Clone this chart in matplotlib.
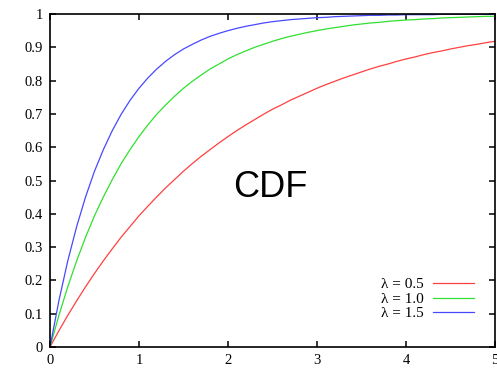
import matplotlib
matplotlib.use("Agg")
import matplotlib.pyplot as plt

# values, x from 0 to 5 in steps of 0.1
x = [i / 10 for i in range(51)]
cdf_05 = [0.000, 0.049, 0.095, 0.139, 0.181, 0.221, 0.259, 0.295, 0.330, 0.362,
          0.394, 0.423, 0.451, 0.478, 0.503, 0.528, 0.551, 0.573, 0.593, 0.613,
          0.632, 0.650, 0.667, 0.683, 0.699, 0.714, 0.727, 0.741, 0.753, 0.765,
          0.777, 0.788, 0.798, 0.808, 0.817, 0.826, 0.835, 0.843, 0.850, 0.858,
          0.865, 0.871, 0.878, 0.884, 0.889, 0.895, 0.900, 0.905, 0.909, 0.914,
          0.918]
cdf_10 = [0.000, 0.095, 0.181, 0.259, 0.330, 0.394, 0.451, 0.503, 0.551, 0.593,
          0.632, 0.667, 0.699, 0.727, 0.753, 0.777, 0.798, 0.817, 0.835, 0.850,
          0.865, 0.878, 0.889, 0.900, 0.909, 0.918, 0.926, 0.933, 0.939, 0.945,
          0.950, 0.955, 0.959, 0.963, 0.967, 0.970, 0.973, 0.975, 0.978, 0.980,
          0.982, 0.983, 0.985, 0.986, 0.988, 0.989, 0.990, 0.991, 0.992, 0.993,
          0.993]
cdf_15 = [0.000, 0.139, 0.259, 0.362, 0.451, 0.528, 0.593, 0.650, 0.699, 0.741,
          0.777, 0.808, 0.835, 0.858, 0.878, 0.895, 0.909, 0.922, 0.933, 0.942,
          0.950, 0.957, 0.963, 0.968, 0.973, 0.977, 0.980, 0.983, 0.985, 0.987,
          0.989, 0.990, 0.992, 0.993, 0.994, 0.995, 0.996, 0.996, 0.997, 0.997,
          0.998, 0.998, 0.998, 0.998, 0.999, 0.999, 0.999, 0.999, 0.999, 0.999,
          0.999]
labels = ["λ = 0.5", "λ = 1.0", "λ = 1.5"]
colors = ["#ff4040", "#30e030", "#4848ff"]

serif = ["Liberation Serif", "DejaVu Serif"]

fig = plt.figure(figsize=(4.97, 3.70), dpi=100)
ax = fig.add_axes([50 / 497, 23 / 370, 445 / 497, 333 / 370])

for ys, lab, c in zip([cdf_05, cdf_10, cdf_15], labels, colors):
    ax.plot(x, ys, color=c, lw=0.9, label=lab)

ax.set_xlim(0, 5)
ax.set_ylim(0, 1)
ax.set_xticks(range(6))
ax.set_yticks([i / 10 for i in range(11)])
ax.set_yticklabels(["0"] + [f"{i / 10:.1f}" for i in range(1, 10)] + ["1"])
ax.tick_params(direction="in", length=4, width=1.1, top=True, right=True,
               labelsize=10.5, pad=5)
for t in ax.get_xticklabels() + ax.get_yticklabels():
    t.set_family(serif)
for s in ax.spines.values():
    s.set_linewidth(1.2)

ax.text(2.477, 0.451, "CDF", fontsize=26, family="Liberation Sans",
        ha="center", va="baseline")

ax.legend(loc="lower right", bbox_to_anchor=(0.953, 0.08), frameon=False,
          markerfirst=False, prop={"family": serif, "size": 11},
          handlelength=2.7, labelspacing=0.05, handletextpad=0.6,
          borderaxespad=0, borderpad=0)

fig.savefig("out.png", dpi=100)
